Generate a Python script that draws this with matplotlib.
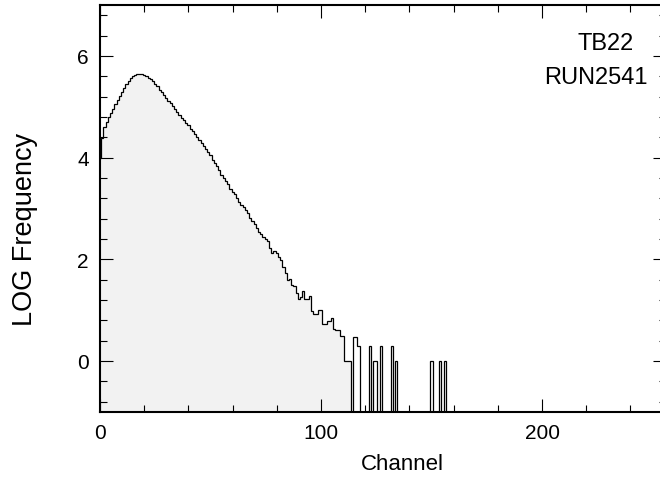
import numpy as np
import matplotlib
matplotlib.use("Agg")
import matplotlib.pyplot as plt
from matplotlib.ticker import MultipleLocator

plt.rcParams['font.family'] = ['Liberation Sans', 'DejaVu Sans']

# log10 of counts, channels 0..113 (continuous part of the spectrum)
body_log = [
    3.99, 4.38, 4.60, 4.70, 4.79, 4.88, 4.96, 5.05, 5.13, 5.21,
    5.29, 5.37, 5.44, 5.51, 5.56, 5.60, 5.63, 5.65, 5.65, 5.65,
    5.63, 5.60, 5.57, 5.54, 5.50, 5.45, 5.40, 5.33, 5.28, 5.23,
    5.18, 5.12, 5.07, 5.01, 4.95, 4.89, 4.84, 4.78, 4.73, 4.68,
    4.63, 4.57, 4.52, 4.47, 4.40, 4.34, 4.28, 4.22, 4.16, 4.11,
    4.05, 3.96, 3.90, 3.84, 3.76, 3.66, 3.60, 3.54, 3.47, 3.39,
    3.32, 3.28, 3.20, 3.12, 3.07, 3.02, 2.97, 2.90, 2.82, 2.76,
    2.70, 2.62, 2.54, 2.50, 2.44, 2.39, 2.35, 2.22, 2.13, 2.16,
    2.13, 2.04, 1.99, 1.84, 1.72, 1.60, 1.62, 1.50, 1.48, 1.34,
    1.22, 1.25, 1.37, 1.21, 1.21, 1.27, 0.98, 0.92, 0.92, 1.01,
    1.01, 0.72, 0.72, 0.78, 0.78, 0.85, 0.62, 0.60, 0.60, 0.48,
    0.48, 0.00, 0.00, 0.00,
]

# isolated counts further out
tail_channels = [115, 116, 117, 122, 124, 125, 127, 132, 134, 150, 154, 156]
tail_counts = [3, 3, 2, 2, 1, 1, 2, 2, 1, 1, 1, 1]

n_channels = 256
ymin, ymax = -1, 7

log_freq = np.full(n_channels, float(ymin))
log_freq[:len(body_log)] = body_log
log_freq[tail_channels] = np.log10(tail_counts)

edges = np.arange(n_channels + 1) - 0.5

fig = plt.figure(figsize=(6.6, 4.89), dpi=100)
ax = fig.add_axes([100 / 660, 76.3 / 489, 565.8 / 660, 406.7 / 489])

ax.stairs(body_log, edges[:len(body_log) + 1], baseline=ymin, fill=True,
          color='#f2f2f2', lw=0)
ax.stairs(log_freq, edges, baseline=None, color='black', lw=0.9)

ax.set_xlim(0, 256)
ax.set_ylim(ymin, ymax)
ax.xaxis.set_major_locator(MultipleLocator(100))
ax.xaxis.set_minor_locator(MultipleLocator(20))
ax.yaxis.set_major_locator(MultipleLocator(2))
ax.yaxis.set_minor_locator(MultipleLocator(0.4))
ax.tick_params(which='both', direction='in', top=True, right=True,
               width=0.8, labelsize=15, color='black')
ax.tick_params(which='major', length=9.4, pad=8)
ax.tick_params(which='minor', length=5)
for sp in ax.spines.values():
    sp.set_linewidth(1.5)

# axis titles placed by hand
fig.text(402 / 660, 1 - 465 / 489, 'Channel', fontsize=16,
         ha='center', va='center')
fig.text(25 / 660, 1 - 229 / 489, 'LOG Frequency', fontsize=19.5,
         rotation=90, ha='center', va='center')

fig.text(606 / 660, 1 - 44.5 / 489, 'TB22', fontsize=17,
         ha='center', va='center')
fig.text(596 / 660, 1 - 78.5 / 489, 'RUN2541', fontsize=17,
         ha='center', va='center')

fig.savefig('out.png', dpi=100)
